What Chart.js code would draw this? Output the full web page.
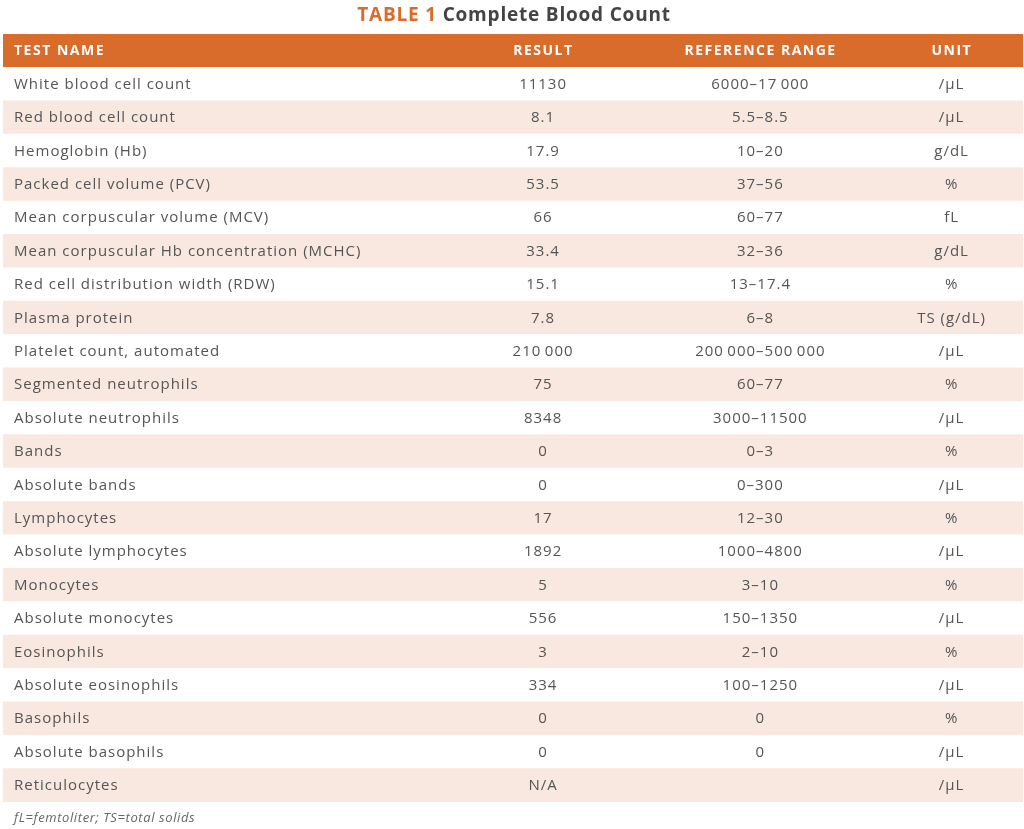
<!DOCTYPE html>
<html>
<head>
<meta charset="utf-8">
<script src="https://cdn.jsdelivr.net/npm/chart.js@4/dist/chart.umd.min.js"></script>
<style>
html,body{margin:0;padding:0;background:#fff;}
#wrap{width:1024px;height:829px;}
</style>
</head>
<body>
<div id="wrap"><canvas id="c" width="1024" height="829"></canvas></div>
<script>
const titleLead = "TABLE 1";
const titleText = "Complete Blood Count";
const headers = ["TEST NAME", "RESULT", "REFERENCE RANGE", "UNIT"];
const testNames = [
  "White blood cell count", "Red blood cell count", "Hemoglobin (Hb)", "Packed cell volume (PCV)",
  "Mean corpuscular volume (MCV)", "Mean corpuscular Hb concentration (MCHC)", "Red cell distribution width (RDW)",
  "Plasma protein", "Platelet count, automated", "Segmented neutrophils", "Absolute neutrophils", "Bands",
  "Absolute bands", "Lymphocytes", "Absolute lymphocytes", "Monocytes", "Absolute monocytes", "Eosinophils",
  "Absolute eosinophils", "Basophils", "Absolute basophils", "Reticulocytes"
];
const results = ["11130", "8.1", "17.9", "53.5", "66", "33.4", "15.1", "7.8", "210\u2009000", "75", "8348", "0",
  "0", "17", "1892", "5", "556", "3", "334", "0", "0", "N/A"];
const ranges = ["6000\u201317\u2009000", "5.5\u20138.5", "10\u201320", "37\u201356", "60\u201377", "32\u201336", "13\u201317.4",
  "6\u20138", "200\u2009000\u2013500\u2009000", "60\u201377", "3000\u201311500", "0\u20133", "0\u2013300", "12\u201330",
  "1000\u20134800", "3\u201310", "150\u20131350", "2\u201310", "100\u20131250", "0", "0", ""];
const units = ["/\u00b5L", "/\u00b5L", "g/dL", "%", "fL", "g/dL", "%", "TS (g/dL)", "/\u00b5L", "%", "/\u00b5L", "%",
  "/\u00b5L", "%", "/\u00b5L", "%", "/\u00b5L", "%", "/\u00b5L", "%", "/\u00b5L", "/\u00b5L"];
const footnote = "fL=femtoliter; TS=total solids";

const ORANGE = "#d96c2b";
const STRIPE = "#f9e8df";
const TEXT = "#555555";

const categories = ["__header__"].concat(testNames);
const rowSpan = categories.map(() => [0, 1]);
const rowColors = categories.map((c, i) => i === 0 ? ORANGE : (i % 2 === 0 ? STRIPE : "#ffffff"));

// column anchors as fraction of table width (style, not data)
const colX = [0.0108, 0.529, 0.742, 0.9295];
const colAlign = ["left", "center", "center", "center"];

function drawText(ctx, t, x, y, align, spacing) {
  ctx.letterSpacing = spacing + "px";
  let w = ctx.measureText(t).width;
  let sx = x;
  if (align === "center") sx = x - (w - spacing) / 2;
  ctx.textAlign = "left";
  ctx.fillText(t, sx, y);
  return w;
}

const tableText = {
  id: "tableText",
  afterDatasetsDraw(chart) {
    const ctx = chart.ctx;
    const xs = chart.scales.x, ys = chart.scales.y;
    const px = f => xs.getPixelForValue(f);
    ctx.save();
    ctx.textBaseline = "middle";
    // header
    const hy = ys.getPixelForValue(0) + 0.5;
    ctx.fillStyle = "#ffffff";
    ctx.font = "bold 14px 'Open Sans', sans-serif";
    headers.forEach((h, j) => drawText(ctx, h, px(colX[j]), hy, colAlign[j], 1.5));
    // rows
    ctx.fillStyle = TEXT;
    ctx.font = "15px 'Open Sans', sans-serif";
    testNames.forEach((name, i) => {
      const y = ys.getPixelForValue(i + 1) + 0.5;
      const cells = [name, results[i], ranges[i], units[i]];
      cells.forEach((t, j) => drawText(ctx, t, px(colX[j]), y, colAlign[j], 1));
    });
    // title
    ctx.font = "bold 19px 'Open Sans', sans-serif";
    ctx.letterSpacing = "0.8px";
    const w1 = ctx.measureText(titleLead + " ").width;
    const w2 = ctx.measureText(titleText).width;
    const tx = 514 - (w1 + w2) / 2;
    ctx.fillStyle = ORANGE;
    drawText(ctx, titleLead + " ", tx, 16, "left", 0.8);
    ctx.fillStyle = "#444444";
    drawText(ctx, titleText, tx + w1, 16, "left", 0.8);
    // footnote
    ctx.font = "italic 13px 'Open Sans', sans-serif";
    ctx.fillStyle = "#666666";
    drawText(ctx, footnote, 14, 818, "left", 0.6);
    ctx.restore();
  }
};

new Chart(document.getElementById("c"), {
  type: "bar",
  data: {
    labels: categories,
    datasets: [{
      data: rowSpan,
      backgroundColor: rowColors,
      borderWidth: 0,
      barPercentage: 1,
      categoryPercentage: 1
    }]
  },
  options: {
    indexAxis: "y",
    responsive: false,
    animation: false,
    devicePixelRatio: 1,
    layout: { padding: { left: 3, right: 1, top: 34, bottom: 27 } },
    scales: {
      x: { type: "linear", min: 0, max: 1, display: false },
      y: { type: "category", display: false, offset: true }
    },
    plugins: { legend: { display: false }, tooltip: { enabled: false }, title: { display: false } }
  },
  plugins: [tableText]
});
</script>
</body>
</html>
